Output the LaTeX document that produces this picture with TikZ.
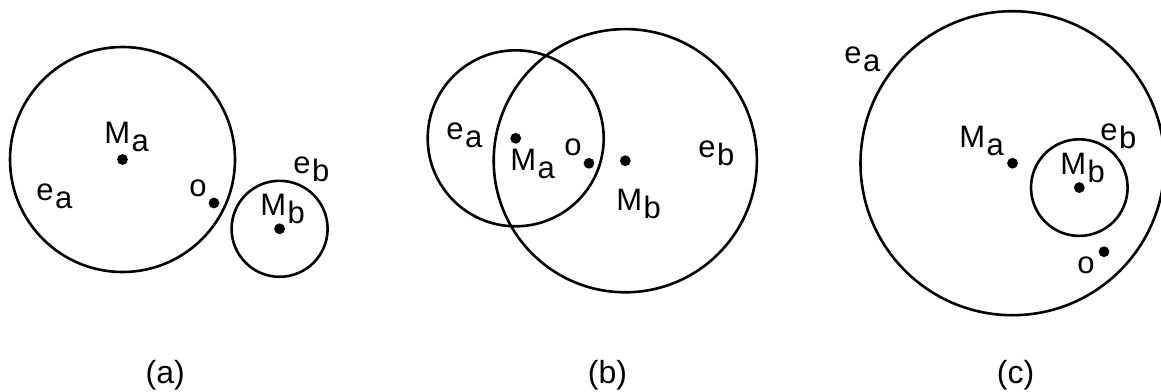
\documentclass[tikz,border=0pt]{standalone}
\usepackage{fontspec}
\setmainfont{Liberation Sans}
\usepackage{tikz}

\newcommand{\lowr}[1]{\kern0.8pt\raisebox{-4.2pt}{#1}}

\begin{document}
\begin{tikzpicture}[x=0.5pt,y=-0.5pt,line width=1.3pt,
	lbl/.style={anchor=base west,inner sep=0pt,font=\fontsize{15.5}{18}\selectfont},
	subcap/.style={anchor=base,inner sep=0pt,font=\fontsize{16}{19}\selectfont}]
	\useasboundingbox (0,0) rectangle (1161,391);
	% (a) two circles side by side
	\coordinate (aMa) at (122.5,159.5); \coordinate (aMb) at (279.6,228.8); \coordinate (ao) at (214,203);
	\draw (aMa) circle[radius=56.25pt]; \draw (aMb) circle[radius=24pt];
	\fill (aMa) circle (2.7pt); \fill (aMb) circle (2.7pt); \fill (ao) circle (2.7pt);
	\node[lbl] (aMalbl) at (103,143) {M\lowr{a}};
	\node[lbl] (aealbl) at (35,200) {e\lowr{a}};
	\node[lbl] (aolbl) at (188,196) {o};
	\node[lbl] (aeblbl) at (292,173) {e\lowr{b}};
	\node[lbl] (aMblbl) at (259,215) {M\lowr{b}};
	\node[subcap] (acap) at (165.3,383.5) {(a)};
	% (b) overlapping circles
	\coordinate (bMa) at (515.7,138.3); \coordinate (bMb) at (625.3,160.7); \coordinate (bo) at (589,163.3);
	\draw (bMa) circle[radius=44pt]; \draw (bMb) circle[radius=65.8pt];
	\fill (bMa) circle (2.7pt); \fill (bMb) circle (2.7pt); \fill (bo) circle (2.7pt);
	\node[lbl] (bealbl) at (445,139) {e\lowr{a}};
	\node[lbl] (bMalbl) at (509,170) {M\lowr{a}};
	\node[lbl] (bolbl) at (563,155) {o};
	\node[lbl] (bMblbl) at (615,210) {M\lowr{b}};
	\node[lbl] (beblbl) at (697,157) {e\lowr{b}};
	\node[subcap] (bcap) at (607.5,383.5) {(b)};
	% (c) one circle inside the other
	\coordinate (cMa) at (1012.5,163.2); \coordinate (cMb) at (1079.3,187.6); \coordinate (co) at (1104,251.7);
	\draw (cMa) circle[radius=76pt]; \draw (cMb) circle[radius=24.15pt];
	\fill (cMa) circle (2.7pt); \fill (cMb) circle (2.7pt); \fill (co) circle (2.7pt);
	\node[lbl] (cealbl) at (843,63) {e\lowr{a}};
	\node[lbl] (cMalbl) at (958,147) {M\lowr{a}};
	\node[lbl] (ceblbl) at (1099,140) {e\lowr{b}};
	\node[lbl] (cMblbl) at (1059,174) {M\lowr{b}};
	\node[lbl] (colbl) at (1076,273) {o};
	\node[subcap] (ccap) at (1015.5,383.5) {(c)};
\end{tikzpicture}
\end{document}
